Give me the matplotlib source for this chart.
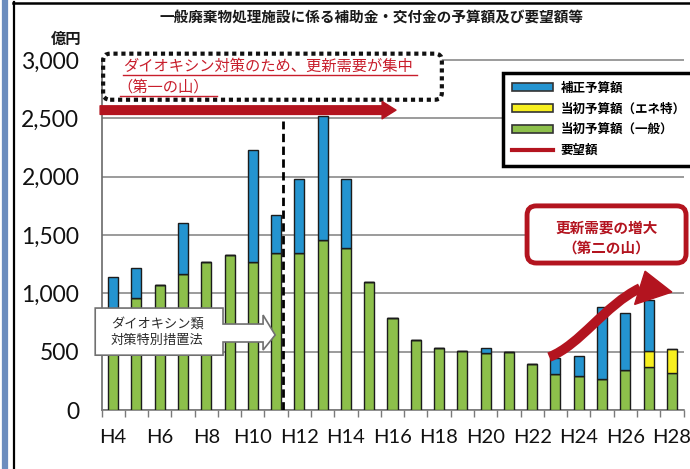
import numpy as np
import matplotlib
matplotlib.use("Agg")
import matplotlib.pyplot as plt
from matplotlib.patches import Patch, Polygon, PathPatch, FancyBboxPatch
from matplotlib.lines import Line2D
from matplotlib.path import Path

plt.rcParams['font.family'] = ['Noto Sans CJK JP', 'DejaVu Sans']

# ---------------- data ----------------
years = ["H4", "H5", "H6", "H7", "H8", "H9", "H10", "H11", "H12", "H13", "H14", "H15", "H16",
         "H17", "H18", "H19", "H20", "H21", "H22", "H23", "H24", "H25", "H26", "H27", "H28"]
general = [850, 960, 1070, 1170, 1270, 1330, 1270, 1350, 1350, 1460, 1390, 1100, 790,
           600, 530, 510, 490, 500, 395, 310, 290, 270, 340, 370, 320]
energy = [0, 0, 0, 0, 0, 0, 0, 0, 0, 0, 0, 0, 0,
          0, 0, 0, 0, 0, 0, 0, 0, 0, 0, 135, 200]
supplement = [290, 260, 0, 430, 0, 0, 960, 320, 630, 1060, 590, 0, 0,
              0, 0, 0, 40, 0, 0, 140, 170, 610, 490, 440, 0]
yticks = [0, 500, 1000, 1500, 2000, 2500, 3000]
ytick_labels = ["0", "500", "1,000", "1,500", "2,000", "2,500", "3,000"]
legend_labels = ["補正予算額", "当初予算額（エネ特）", "当初予算額（一般）", "要望額"]

c_green = "#8DC04B"
c_yellow = "#F7EF1F"
c_blue = "#2494D0"
c_red = "#B3141F"
c_text_red = "#C81E2C"

fig = plt.figure(figsize=(6.9, 4.69), dpi=100)
ax = fig.add_axes([101.5/690, 1 - 410/469, 582/690, 350.5/469])

x = np.arange(len(years))
w = 0.43
general = np.array(general)
energy = np.array(energy)
supplement = np.array(supplement)
ax.bar(x, general, w, color=c_green, edgecolor="#1c1c1c", linewidth=1.0, zorder=3)
ax.bar(x, energy, w, bottom=general, color=c_yellow, edgecolor="#1c1c1c", linewidth=1.0, zorder=3)
ax.bar(x, supplement, w, bottom=general + energy, color=c_blue, edgecolor="#1c1c1c", linewidth=1.0, zorder=3)

ax.set_xlim(-0.5, len(years) - 0.5)
ax.set_ylim(0, 3005)
ax.set_yticks(yticks)
ax.set_yticklabels(ytick_labels, fontfamily="Lato", fontsize=16.5, color="#111111")
ax.tick_params(axis='y', length=0, pad=16)
ax.set_xticks(x[::2])
ax.set_xticklabels(years[::2], fontfamily="Lato", fontsize=14.5, color="#111111")
ax.set_xticks(np.arange(-0.5, len(years), 1), minor=True)
ax.tick_params(axis='x', which='major', length=0, pad=14)
ax.tick_params(axis='x', which='minor', length=5, width=1, color="#7a7a7a")
ax.grid(axis='y', color="#8a8a8a", linewidth=1.2, zorder=0)
ax.set_axisbelow(True)
for s in ["top", "right"]:
    ax.spines[s].set_visible(False)
ax.spines["bottom"].set_color("#7a7a7a")
ax.spines["left"].set_color("#6a6a6a")
ax.spines["bottom"].set_linewidth(1.2)
ax.spines["left"].set_linewidth(1.2)

# aspect for isotropic rounding in data coords
fig.canvas.draw()
bb = ax.get_window_extent()
px_x = bb.width / (ax.get_xlim()[1] - ax.get_xlim()[0])
px_y = bb.height / (ax.get_ylim()[1] - ax.get_ylim()[0])
asp = px_x / px_y

# ---- dotted box, first peak ----
dbox = FancyBboxPatch((-0.43, 2660), 14.55, 395, boxstyle="round,pad=0,rounding_size=0.3",
                      mutation_aspect=asp, facecolor="white", edgecolor="#111111",
                      linewidth=3, linestyle=(0, (1.0, 0.9)), clip_on=False, zorder=5)
ax.add_patch(dbox)
ax.text(0.43, 2945, "ダイオキシン対策のため、更新需要が集中", color=c_text_red, fontsize=11,
        va="center", ha="left", zorder=6, clip_on=False)
ax.plot([0.43, 13.05], [2868, 2868], color=c_text_red, lw=1.0, zorder=6, clip_on=False)
ax.text(0.2, 2768, "（第一の山）", color=c_text_red, fontsize=11, va="center", ha="left", zorder=6)
ax.plot([0.3, 4.45], [2690, 2690], color=c_text_red, lw=1.0, zorder=6)

# big straight arrow
ax.annotate("", xy=(12.15, 2571), xytext=(-0.56, 2571),
            arrowprops=dict(arrowstyle="simple,head_width=1.25,head_length=1.0,tail_width=0.62",
                            fc=c_red, ec=c_red, shrinkA=0, shrinkB=0),
            annotation_clip=False, zorder=6)

# dashed vertical line
ax.plot([7.3, 7.3], [0, 2477], color="black", lw=2, linestyle=(0, (3, 1.6)), zorder=6)

# law box (arrow shaped)
law = Polygon([(-0.77, 874), (4.72, 874), (4.72, 737), (6.44, 737), (6.44, 814), (6.96, 643),
               (6.44, 514), (6.44, 583), (4.72, 583), (4.72, 470), (-0.77, 470)],
              closed=True, facecolor="white", edgecolor="#707070", linewidth=1.2,
              clip_on=False, zorder=7)
ax.add_patch(law)
ax.text(1.9, 738, "ダイオキシン類", fontsize=9.5, color="#2a2a2a", ha="center", va="center", zorder=8)
ax.text(1.9, 592, "対策特別措置法", fontsize=9.5, color="#2a2a2a", ha="center", va="center", zorder=8)

# second peak box
rbox = FancyBboxPatch((17.78, 1260), 6.83, 490, boxstyle="round,pad=0,rounding_size=0.4",
                      mutation_aspect=asp, facecolor="white", edgecolor=c_red, linewidth=3.5,
                      clip_on=False, zorder=7)
ax.add_patch(rbox)
ax.text(21.2, 1560, "更新需要の増大", fontsize=10.5, fontweight="bold", color=c_red,
        ha="center", va="center", zorder=8, clip_on=False)
ax.text(21.2, 1390, "（第二の山）", fontsize=10.5, fontweight="bold", color=c_red,
        ha="center", va="center", zorder=8, clip_on=False)

# curvy arrow
verts = [(18.73, 454), (20.06, 557), (21.13, 900), (22.64, 1046)]
path = Path(verts, [Path.MOVETO, Path.CURVE4, Path.CURVE4, Path.CURVE4])
ax.add_patch(PathPatch(path, facecolor="none", edgecolor=c_red, linewidth=7,
                       capstyle="butt", zorder=8, clip_on=False))
ax.add_patch(Polygon([(22.85, 1190), (24.0, 1011), (22.4, 905)], closed=True,
                     facecolor=c_red, edgecolor=c_red, linewidth=1, zorder=8, clip_on=False))

# legend
handles = [Patch(facecolor=c_blue, edgecolor="#333333", linewidth=1.2),
           Patch(facecolor=c_yellow, edgecolor="#333333", linewidth=1.2),
           Patch(facecolor=c_green, edgecolor="#333333", linewidth=1.2),
           Line2D([0], [0], color=c_red, linewidth=3)]
leg = fig.legend(handles, legend_labels, loc="upper left", bbox_to_anchor=(503/690, 1 - 73/469),
                 prop={'family': ['Noto Sans CJK JP', 'DejaVu Sans'], 'size': 9, 'weight': 'bold'},
                 handlelength=3.3, handleheight=0.6, handletextpad=0.6, labelspacing=0.62,
                 borderpad=0.7, borderaxespad=0, fancybox=False, framealpha=1, edgecolor="black")
leg.get_frame().set_linewidth(2.5)
leg.set_zorder(10)

# titles
fig.text(372/690, 1 - 18/469, "一般廃棄物処理施設に係る補助金・交付金の予算額及び要望額等",
         fontsize=10.5, fontweight="bold", ha="center", va="center", color="#1a1a1a")
fig.text(66/690, 1 - 39/469, "億円", fontsize=11, fontweight="bold", ha="center", va="center",
         color="#1a1a1a")

# page frame
fig.add_artist(Line2D([5/690, 5/690], [0, 1], color="#6C8DBE", linewidth=4.5, transform=fig.transFigure))
fig.add_artist(Line2D([13.5/690, 13.5/690], [0, 1 - 2/469], color="black", linewidth=1.6,
                      transform=fig.transFigure))
fig.add_artist(Line2D([13/690, 1], [1 - 3/469, 1 - 3/469], color="black", linewidth=1.8,
                      transform=fig.transFigure))

fig.savefig("out.png", dpi=100)
